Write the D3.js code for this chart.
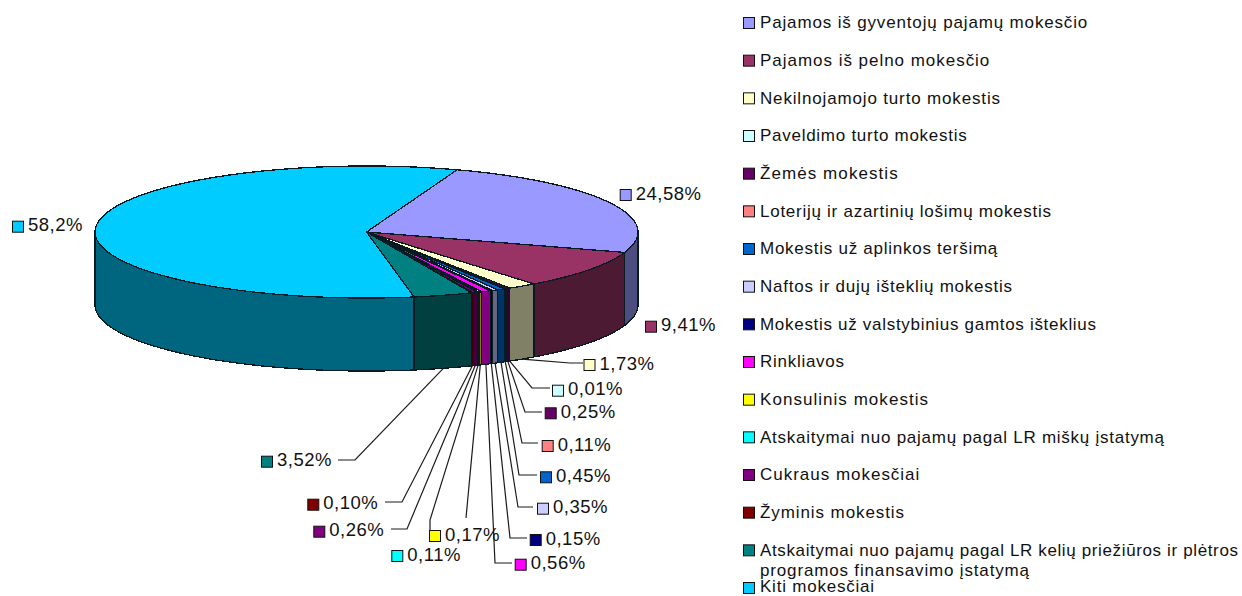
<!DOCTYPE html>
<html><head><meta charset="utf-8">
<script src="https://cdn.jsdelivr.net/npm/d3@7/dist/d3.min.js"></script>
<style>html,body{margin:0;padding:0;background:#fff;overflow:hidden}svg{display:block}
text{font-family:"Liberation Sans",Arial,sans-serif;fill:#111}</style></head><body>
<svg id="c" width="1242" height="596"></svg>
<script>
const categories = ["Pajamos iš gyventojų pajamų mokesčio","Pajamos iš pelno mokesčio","Nekilnojamojo turto mokestis","Paveldimo turto mokestis","Žemės mokestis","Loterijų ir azartinių lošimų mokestis","Mokestis už aplinkos teršimą","Naftos ir dujų išteklių mokestis","Mokestis už valstybinius gamtos išteklius","Rinkliavos","Konsulinis mokestis","Atskaitymai nuo pajamų pagal LR miškų įstatymą","Cukraus mokesčiai","Žyminis mokestis","Atskaitymai nuo pajamų pagal LR kelių priežiūros ir plėtros\nprogramos finansavimo įstatymą","Kiti mokesčiai"];
const values = [24.58,9.41,1.73,0.01,0.25,0.11,0.45,0.35,0.15,0.56,0.17,0.11,0.26,0.10,3.52,58.2];
const valueLabels = ["24,58%","9,41%","1,73%","0,01%","0,25%","0,11%","0,45%","0,35%","0,15%","0,56%","0,17%","0,11%","0,26%","0,10%","3,52%","58,2%"];
const colors = ["#9999FF","#993366","#FFFFCC","#CCFFFF","#660066","#FF8080","#0066CC","#CCCCFF","#000080","#FF00FF","#FFFF00","#00FFFF","#800080","#800000","#008080","#00CCFF"];
// layout of the data labels: swatch centre
const labelAt = [[625.7,195],[651,326.7],[589.5,365],[558,390.7],[550.7,413.3],[547.7,446],[546,477.3],[543,508.7],[535.7,540],[520.7,564.7],[435,536],[397.3,556],[319.3,531.7],[313.3,504.7],[267,461.7],[18,226.7]];
// leader line waypoints after the pie edge (null = no leader)
const leaders = [null,null,[[570,363],[583,363]],[[532,388],[550,388]],[[525,412],[542,412]],[[522,443],[538,443]],[[519,475],[537,475]],[[518,507],[533,507]],[[510,538],[527,538]],[[495,563],[512,563]],[[466,518]],[[430,520],[430,530]],[[407,529],[391,529]],[[402,502],[385,502]],[[355,460],[338,460]],null];
// right end of each legend line as measured on the reference (text fitting)
const legendEnds = [[1087.3],[989.3],[1000],[966.7],[897.7],[1051],[997.3],[1012],[1096],[844],[928],[1164],[919.3],[904],[1238,1029],[874]];

const svg = d3.select("#c");
const cx=366.5, cy=232, rx=271.5, ry=66, depth=73;
const sx = d3.scaleLinear().domain([-1,1]).range([cx-rx,cx+rx]);
const sy = d3.scaleLinear().domain([-1,1]).range([cy-ry,cy+ry]);
const start = 19.5*Math.PI/180;
const pie = d3.pie().sort(null).startAngle(start).endAngle(start+2*Math.PI);
const arcs = pie(values);
const px = a=>sx(Math.sin(a)), py = a=>sy(-Math.cos(a));
const samples=(a,b)=>{const n=Math.max(1,Math.ceil((b-a)/0.01));return d3.range(n+1).map(i=>a+(b-a)*i/n);};
const line = d3.line();
const dark = c=>{const r=d3.rgb(c);return d3.rgb(r.r/2,r.g/2,r.b/2).formatHex();};
const g = svg.append("g").attr("stroke","#0a1a22").attr("stroke-width",1.3).attr("stroke-linejoin","round").style("shape-rendering","crispEdges");
// walls
const H=Math.PI/2, T=3*Math.PI/2;
arcs.forEach((d,i)=>{
  const a=Math.max(d.startAngle,H), b=Math.min(d.endAngle,T);
  if(b<=a) return;
  const s=samples(a,b);
  const top=s.map(t=>[px(t),py(t)]), bot=s.slice().reverse().map(t=>[px(t),py(t)+depth]);
  g.append("path").attr("d",line(top.concat(bot))+"Z").attr("fill",dark(colors[i]));
});
// top faces
arcs.forEach((d,i)=>{
  const pts=[[sx(0),sy(0)]].concat(samples(d.startAngle,d.endAngle).map(t=>[px(t),py(t)]));
  g.append("path").attr("d",line(pts)+"Z").attr("fill",colors[i]);
});
// leaders
const lg=svg.append("g").attr("fill","none").attr("stroke","#1a1a1a").attr("stroke-width",1.2);
arcs.forEach((d,i)=>{
  if(!leaders[i])return;
  const m=(d.startAngle+d.endAngle)/2;
  lg.append("path").attr("d",line([[px(m),py(m)+depth]].concat(leaders[i])));
});
// data labels
const lab=svg.append("g");
arcs.forEach((d,i)=>{
  const [x,y]=labelAt[i];
  lab.append("rect").attr("x",x-5.5).attr("y",y-5.5).attr("width",11).attr("height",11).attr("fill",colors[i]).attr("stroke","#111").attr("stroke-width",1);
  lab.append("text").attr("x",x+10).attr("y",y+4.5).attr("font-size",18.5).attr("letter-spacing",0.5).text(valueLabels[i]);
});
// legend
const ly=d3.scaleLinear().domain([0,categories.length-1]).range([23,588]);
const leg=svg.append("g");
categories.forEach((c,i)=>{
  const y=ly(i);
  leg.append("rect").attr("x",743.5).attr("y",y-5.5).attr("width",11).attr("height",11).attr("fill",colors[i]).attr("stroke","#111").attr("stroke-width",1);
  c.split("\n").forEach((t,k)=>{
    leg.append("text").attr("x",760).attr("y",Math.min(y+5.3+k*20.5,592.3)).attr("font-size",17)
      .attr("textLength",legendEnds[i][k]-760).attr("lengthAdjust","spacing").text(t);
  });
});
</script></body></html>
